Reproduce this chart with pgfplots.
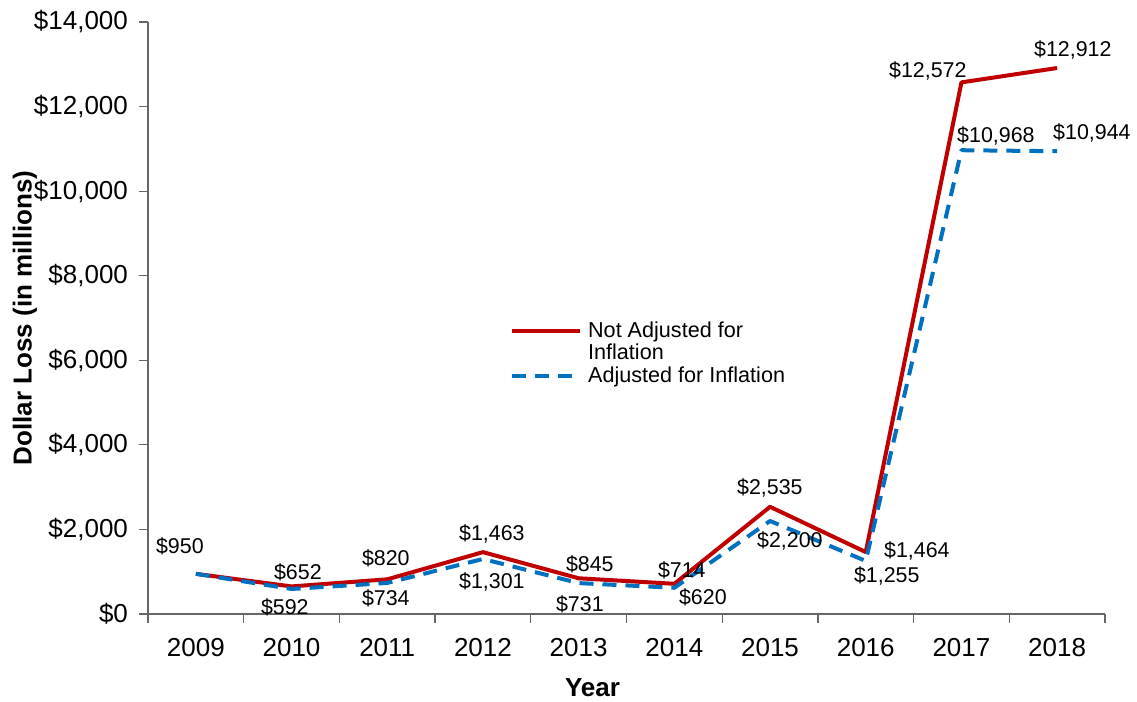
\documentclass[border=0pt]{standalone}
\usepackage{fontspec}
\setmainfont{Liberation Sans}
\usepackage{pgfplots}
\pgfplotsset{compat=1.18}
\definecolor{cred}{HTML}{C00000}
\definecolor{cblue}{HTML}{0070C0}
\tikzset{lbl/.style={font=\fontsize{10.7}{12}\selectfont, inner sep=0pt, anchor=center}}
\begin{document}
\begin{tikzpicture}
\begin{axis}[
  scale only axis, width=478.5pt, height=296pt,
  xmin=-0.5, xmax=9.5, ymin=0, ymax=14000,
  clip=false,
  axis lines*=left,
  axis line style={black!60, line width=0.6pt},
  xtick={-0.5,0.5,...,9.5},
  x tick label as interval,
  xticklabels={2009,2010,2011,2012,2013,2014,2015,2016,2017,2018},
  ytick={0,2000,...,14000},
  scaled y ticks=false,
  yticklabel={\$\pgfmathprintnumber[fixed,precision=0,1000 sep={,},assume math mode=true]{\tick}},
  tick align=outside, major tick length=4.5pt,
  tick style={black!60, line width=0.6pt},
  tick label style={font=\fontsize{13}{15}\selectfont},
  yticklabel style={xshift=-2pt},
  xticklabel style={yshift=-4pt},
  every axis x label/.style={at={(axis description cs:0.5,0)}, xshift=-17pt, yshift=-37pt, anchor=center, font=\fontsize{13}{15}\selectfont\bfseries},
  every axis y label/.style={at={(axis description cs:0,0.5)}, xshift=-61.5pt, rotate=90, anchor=center, font=\fontsize{13}{15}\selectfont\bfseries},
  xlabel={Year},
  ylabel={Dollar Loss (in millions)},
  legend style={draw=none, fill=none, at={(0.378,0.498)}, anchor=north west, inner sep=0pt,
    font=\fontsize{10.8}{12}\selectfont, nodes={inner sep=1pt}},
  legend cell align=left,
  legend image code/.code={\draw[#1] (0pt,0pt) -- (34pt,0pt);},
]
\addplot[cred, line width=2pt, line join=round] coordinates {
  (0,950) (1,652) (2,820) (3,1463) (4,845) (5,714) (6,2535) (7,1464) (8,12572) (9,12912)};
\addlegendentry{\hspace{2pt}Not Adjusted for}
\addlegendimage{empty legend}
\addlegendentry{\hspace{2pt}Inflation}
\addplot[cblue, line width=2pt, dash pattern=on 7pt off 4.5pt, line join=round] coordinates {
  (0,950) (1,592) (2,734) (3,1301) (4,731) (5,620) (6,2200) (7,1255) (8,10968) (9,10944)};
\addlegendentry{\hspace{2pt}Adjusted for Inflation}

\node[lbl] at (axis cs:-0.167,1608) {\$950};
\node[lbl] at (axis cs:1.066,993) {\$652};
\node[lbl] at (axis cs:0.93,166) {\$592};
\node[lbl] at (axis cs:1.985,1324) {\$820};
\node[lbl] at (axis cs:1.985,378) {\$734};
\node[lbl] at (axis cs:3.093,1892) {\$1,463};
\node[lbl] at (axis cs:3.093,757) {\$1,301};
\node[lbl] at (axis cs:4.117,1183) {\$845};
\node[lbl] at (axis cs:4.013,237) {\$731};
\node[lbl] at (axis cs:5.078,1041) {\$714};
\node[lbl] at (axis cs:5.298,402) {\$620};
\node[lbl] at (axis cs:5.998,2980) {\$2,535};
\node[lbl] at (axis cs:6.207,1726) {\$2,200};
\node[lbl] at (axis cs:7.534,1490) {\$1,464};
\node[lbl] at (axis cs:7.22,899) {\$1,255};
\node[lbl] at (axis cs:7.649,12842) {\$12,572};
\node[lbl] at (axis cs:8.36,11305) {\$10,968};
\node[lbl] at (axis cs:9.164,13339) {\$12,912};
\node[lbl] at (axis cs:9.363,11376) {\$10,944};
\coordinate (bl) at (rel axis cs:0,0);
\coordinate (tr) at (rel axis cs:1,1);
\end{axis}
\pgfresetboundingbox
\path ([shift={(-74pt,-44pt)}]bl) rectangle ([shift={(16pt,11pt)}]tr);
\end{tikzpicture}
\end{document}
